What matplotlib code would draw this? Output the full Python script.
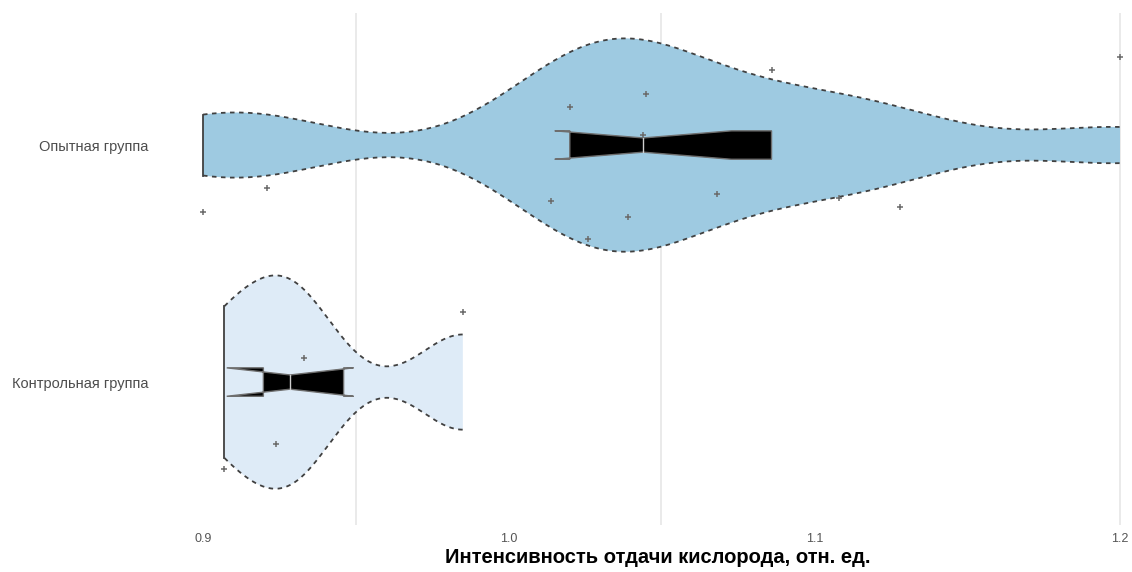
import matplotlib.pyplot as plt
import numpy as np

# Интенсивность отдачи кислорода по группам
groups = ['Контрольная группа', 'Опытная группа']
control = [0.907, 0.924, 0.933, 0.985]
experimental = [0.900, 0.921, 1.014, 1.020, 1.026, 1.039, 1.044,
                1.045, 1.068, 1.086, 1.108, 1.128, 1.200]
# вертикальный разброс точек (jitter) в долях категории
control_jitter = [-0.367, -0.262, 0.101, 0.295]
experimental_jitter = [-0.283, -0.181, -0.236, 0.160, -0.397, -0.304, 0.042,
                       0.215, -0.207, 0.316, -0.224, -0.262, 0.371]

x_ticks = [0.9, 1.0, 1.1, 1.2]
x_grid = [0.95, 1.05, 1.2]
fills = ['#deebf7', '#9ecae1']

data = [np.array(control), np.array(experimental)]
jitters = [control_jitter, experimental_jitter]
positions = [1, 2]


def nrd0_factor(kde):
    # ширина окна как bw.nrd0 в R, пересчитанная в множитель к sd
    d = np.asarray(kde.dataset).ravel()
    sd = np.std(d, ddof=1)
    iqr = np.subtract(*np.percentile(d, [75, 25]))
    lo = min(sd, iqr / 1.34)
    bw = 0.9 * lo * len(d) ** -0.2
    return bw / sd


fig = plt.figure(figsize=(11.32, 5.72), dpi=100)
ax = fig.add_axes([0.1387, 0.0822, 0.8613, 0.895])

for g in x_grid:
    ax.axvline(g, color='#e6e6e6', lw=1.2, zorder=0)

parts = ax.violinplot(data, positions=positions, widths=0.9,
                      orientation='horizontal', bw_method=nrd0_factor,
                      showextrema=False, points=200)

for body, pos, col, d in zip(parts['bodies'], positions, fills, data):
    body.set_facecolor(col)
    body.set_edgecolor('none')
    body.set_alpha(1)
    body.set_zorder(1)
    v = body.get_paths()[0].vertices
    up = v[v[:, 1] > pos]
    dn = v[v[:, 1] < pos]
    up = up[np.argsort(up[:, 0])]
    dn = dn[np.argsort(dn[:, 0])]
    ax.plot(up[:, 0], up[:, 1], color='#404040', lw=1.3, ls=(0, (2.5, 2.5)), zorder=2)
    ax.plot(dn[:, 0], dn[:, 1], color='#404040', lw=1.3, ls=(0, (2.5, 2.5)), zorder=2)
    # левая граница обрезанной скрипки
    ax.plot([up[0, 0], dn[0, 0]], [up[0, 1], dn[0, 1]], color='#404040', lw=1.3, zorder=2)

# "зубчатый" бокс как в ggplot (без усов)
h = 0.06
for d, pos in zip(data, positions):
    q1, med, q3 = np.percentile(d, [25, 50, 75])
    notch = 1.58 * (q3 - q1) / np.sqrt(len(d))
    nlo, nhi = med - notch, med + notch
    xs = [q1, nlo, med, nhi, q3, q3, nhi, med, nlo, q1]
    ys = [h, h, h / 2, h, h, -h, -h, -h / 2, -h, -h]
    ax.fill(xs, np.array(ys) + pos, facecolor='black', edgecolor='#6e6e6e',
            lw=1.0, zorder=3)
    ax.plot([med, med], [pos - h / 2, pos + h / 2], color='#cfcfcf', lw=1.0, zorder=4)

for d, j, pos in zip(data, jitters, positions):
    ax.plot(d, pos + np.array(j), ls='none', marker='+', ms=4.5, mew=1.1,
            color='#6a6a6a', zorder=5)

ax.set_xlim(0.88495, 1.20393)
ax.set_ylim(0.397, 2.557)
ax.set_xticks(x_ticks)
ax.set_xticklabels(['0.9', '1.0', '1.1', '1.2'])
ax.set_yticks(positions)
ax.set_yticklabels(groups)
ax.tick_params(axis='x', length=0, pad=6, labelsize=9, labelcolor='#555555')
ax.tick_params(axis='y', length=0, pad=6, labelsize=10.5, labelcolor='#4d4d4d')
for lab in ax.get_xticklabels() + ax.get_yticklabels():
    lab.set_family('Liberation Sans')
for s in ax.spines.values():
    s.set_visible(False)

ax.set_xlabel('Интенсивность отдачи кислорода, отн. ед.', fontsize=14.5,
              fontweight='bold', family='Liberation Sans', color='black')
ax.xaxis.set_label_coords(0.514, -0.045)

fig.savefig('out.png', dpi=100)
